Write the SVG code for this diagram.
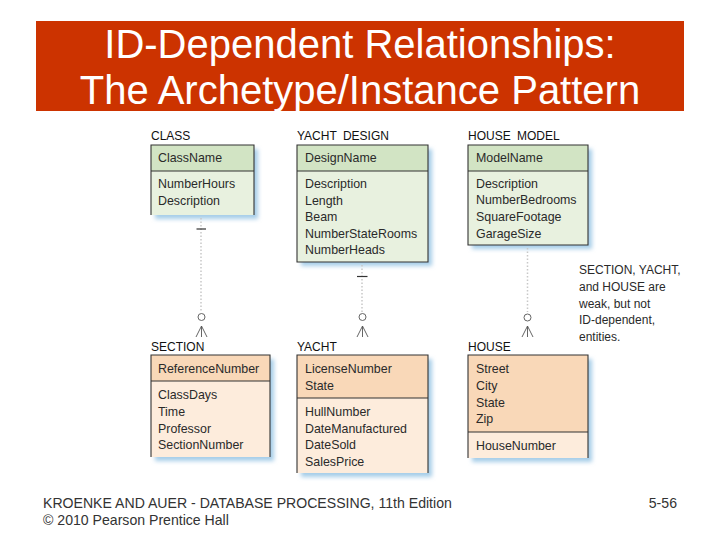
<svg xmlns="http://www.w3.org/2000/svg" width="720" height="540" viewBox="0 0 720 540">
<defs>
<filter id="sh" x="-10%" y="-10%" width="130%" height="130%"><feGaussianBlur stdDeviation="2"/></filter>
</defs>
<style>
text{font-family:"Liberation Sans",Arial,sans-serif;fill:#222;}
.t{font-size:40px;fill:#fff;text-anchor:middle;}
.lbl{font-size:12px;fill:#111;}
.a{font-size:12.4px;fill:#2a2a2a;}
.note{font-size:12px;fill:#2a2a2a;}
.foot{font-size:14.1px;fill:#333;}
.shadow{fill:#a6cde8;filter:url(#sh);}
.gh{fill:#d2e4c4;}
.gb{fill:#e8f1df;}
.ph{fill:#f9d8b8;}
.pb{fill:#fdecdc;}
.bd{fill:none;stroke:#333;stroke-width:1.1;}
.dot{stroke:#c8c8c8;stroke-width:1.5;stroke-dasharray:1.5 2;fill:none;}
.tick{stroke:#333;stroke-width:1.2;}
.cf{stroke:#555;stroke-width:0.9;fill:none;}
</style>
<rect x="36" y="21" width="648" height="90" fill="#CC3300"/>
<text class="t" x="360" y="58">ID-Dependent Relationships:</text>
<text class="t" x="360" y="104">The Archetype/Instance Pattern</text>

<g id="class">
<text class="lbl" x="151" y="139.5">CLASS</text>
<rect class="shadow" x="155" y="149" width="103" height="70"/>
<rect class="gb" x="151" y="145" width="103" height="70"/>
<rect class="gh" x="151" y="145" width="103" height="26"/>
<path class="bd" d="M151 215V145H254V215M151 171H254"/>
<text class="a" x="158" y="161.5">ClassName</text>
<text class="a" x="158" y="187.5">NumberHours</text>
<text class="a" x="158" y="204.5">Description</text>
</g>

<g id="yacht-design">
<text class="lbl" x="297" y="139.5" word-spacing="3">YACHT DESIGN</text>
<rect class="shadow" x="301" y="149" width="131" height="117"/>
<rect class="gb" x="297" y="145" width="131" height="117"/>
<rect class="gh" x="297" y="145" width="131" height="26"/>
<path class="bd" d="M297 145H428V262H297ZM297 171H428"/>
<text class="a" x="305" y="161.5">DesignName</text>
<text class="a" x="305" y="187.5">Description</text>
<text class="a" x="305" y="204.5">Length</text>
<text class="a" x="305" y="220.5">Beam</text>
<text class="a" x="305" y="237.5">NumberStateRooms</text>
<text class="a" x="305" y="253.5">NumberHeads</text>
</g>

<g id="house-model">
<text class="lbl" x="468" y="139.5" word-spacing="3">HOUSE MODEL</text>
<rect class="shadow" x="472" y="149" width="120" height="100"/>
<rect class="gb" x="468" y="145" width="120" height="100"/>
<rect class="gh" x="468" y="145" width="120" height="26"/>
<path class="bd" d="M468 145H588V245H468ZM468 171H588"/>
<text class="a" x="476" y="161.5">ModelName</text>
<text class="a" x="476" y="187.5">Description</text>
<text class="a" x="476" y="203.5">NumberBedrooms</text>
<text class="a" x="476" y="220.5">SquareFootage</text>
<text class="a" x="476" y="237.5">GarageSize</text>
</g>

<g id="section">
<text class="lbl" x="151" y="350.5">SECTION</text>
<rect class="shadow" x="155" y="359" width="119" height="102"/>
<rect class="pb" x="151" y="355" width="119" height="102"/>
<rect class="ph" x="151" y="355" width="119" height="26"/>
<path class="bd" d="M151 457V355H270V457M151 381H270"/>
<text class="a" x="158" y="372.5">ReferenceNumber</text>
<text class="a" x="158" y="398.5">ClassDays</text>
<text class="a" x="158" y="415.5">Time</text>
<text class="a" x="158" y="432.5">Professor</text>
<text class="a" x="158" y="448.5">SectionNumber</text>
</g>

<g id="yacht">
<text class="lbl" x="297" y="350.5">YACHT</text>
<rect class="shadow" x="301" y="359" width="131" height="118"/>
<rect class="pb" x="297" y="355" width="131" height="118"/>
<rect class="ph" x="297" y="355" width="131" height="43"/>
<path class="bd" d="M297 473V355H428V473M297 398H428"/>
<text class="a" x="305" y="372.5">LicenseNumber</text>
<text class="a" x="305" y="389.5">State</text>
<text class="a" x="305" y="415.5">HullNumber</text>
<text class="a" x="305" y="432.5">DateManufactured</text>
<text class="a" x="305" y="448.5">DateSold</text>
<text class="a" x="305" y="465.5">SalesPrice</text>
</g>

<g id="house">
<text class="lbl" x="468" y="350.5">HOUSE</text>
<rect class="shadow" x="472" y="359" width="120" height="103"/>
<rect class="pb" x="468" y="355" width="120" height="103"/>
<rect class="ph" x="468" y="355" width="120" height="77"/>
<path class="bd" d="M468 458V355H588V458M468 432H588"/>
<text class="a" x="476" y="372.5">Street</text>
<text class="a" x="476" y="389.5">City</text>
<text class="a" x="476" y="406.5">State</text>
<text class="a" x="476" y="422.5">Zip</text>
<text class="a" x="476" y="449.5">HouseNumber</text>
</g>

<g id="connectors">
<path class="dot" d="M201 218V312"/>
<path class="tick" d="M196.5 229H206"/>
<circle class="cf" cx="201.5" cy="317" r="3.5"/>
<path class="cf" d="M201.5 326L196 337M201.5 326L207 337M201.5 326V337"/>

<path class="dot" d="M362 265V312"/>
<path class="tick" d="M357 276.5H367.5"/>
<circle class="cf" cx="362.5" cy="317" r="3.5"/>
<path class="cf" d="M362.5 326L357 337M362.5 326L368 337M362.5 326V337"/>

<path class="dot" d="M527.5 248V312"/>
<circle class="cf" cx="527.5" cy="317.5" r="3.5"/>
<path class="cf" d="M527.5 326L522 337M527.5 326L533 337M527.5 326V337"/>
</g>

<g id="note">
<text class="note" x="579" y="273.5">SECTION, YACHT,</text>
<text class="note" x="579" y="290.5">and HOUSE are</text>
<text class="note" x="579" y="307.5">weak, but not</text>
<text class="note" x="579" y="323.5">ID-dependent,</text>
<text class="note" x="579" y="340.5">entities.</text>
</g>

<text class="foot" x="43" y="508">KROENKE AND AUER - DATABASE PROCESSING, 11th Edition</text>
<text class="foot" x="43" y="525">© 2010 Pearson Prentice Hall</text>
<text class="foot" x="677" y="508" text-anchor="end">5-56</text>
</svg>
